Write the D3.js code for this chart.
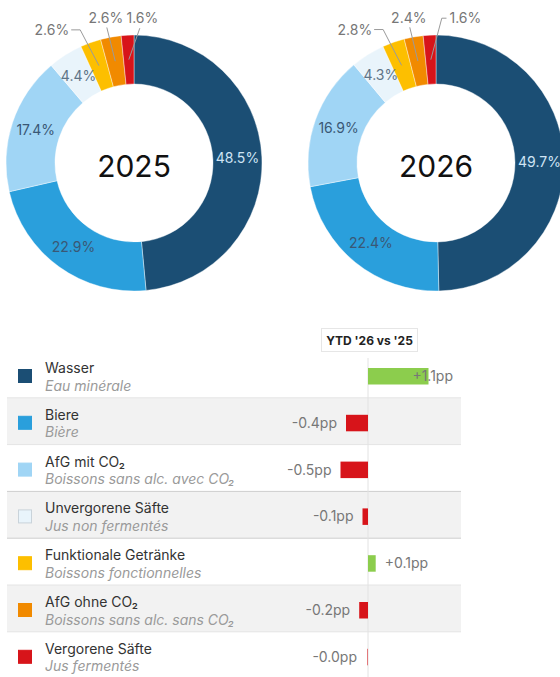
<!DOCTYPE html>
<meta charset="utf-8">
<style>
body { margin: 0; background: #fff; }
svg { display: block; font-family: Inter, "Noto Sans", sans-serif; }
</style>
<svg id="chart" width="560" height="677"></svg>
<script src="https://d3js.org/d3.v7.min.js"></script>
<script>

var categoriesDe = ["Wasser", "Biere", "AfG mit CO₂", "Unvergorene Säfte", "Funktionale Getränke", "AfG ohne CO₂", "Vergorene Säfte"];
var categoriesFr = ["Eau minérale", "Bière", "Boissons sans alc. avec CO₂", "Jus non fermentés", "Boissons fonctionnelles", "Boissons sans alc. sans CO₂", "Jus fermentés"];
var share2025 = [48.5, 22.9, 17.4, 4.4, 2.6, 2.6, 1.6];
var share2026 = [49.7, 22.4, 16.9, 4.3, 2.8, 2.4, 1.6];
var deltaPp = [1.1, -0.4, -0.5, -0.1, 0.14, -0.16, -0.01];
var years = ["2025", "2026"];

var colors = ["#1b4e74", "#2a9fdc", "#a0d5f5", "#e9f4fb", "#fdbf00", "#f18a00", "#d7141a"];

var svg = d3.select("svg");

// ---- donuts ----
var donuts = [
  {year: years[0], values: share2025, cx: 134, cy: 163, redNudge: 0},
  {year: years[1], values: share2026, cx: 436, cy: 163, redNudge: 21}
];

var rOuter = 128, rInner = 79;
var arc = d3.arc().innerRadius(rInner).outerRadius(rOuter);
var pie = d3.pie().sort(null).value(function(d) { return d; });

function polar(r, a) { return [r * Math.sin(a), -r * Math.cos(a)]; }

donuts.forEach(function(dn) {
  var g = svg.append("g").attr("transform", "translate(" + dn.cx + "," + dn.cy + ")");
  var arcs = pie(dn.values);

  g.selectAll("path.slice").data(arcs).enter().append("path")
      .attr("class", "slice")
      .attr("d", arc)
      .attr("fill", function(d, i) { return colors[i]; })
      .attr("stroke", "#fff")
      .attr("stroke-width", 0.4);

  g.append("text")
      .attr("x", 0).attr("y", 14)
      .attr("text-anchor", "middle")
      .attr("font-size", 30)
      .attr("fill", "#111")
      .text(dn.year);

  var small = [];
  arcs.forEach(function(d, i) {
    var c = arc.centroid(d);
    if (d.data >= 3.5) {
      g.append("text")
          .attr("x", c[0]).attr("y", c[1] + 5)
          .attr("text-anchor", "middle")
          .attr("font-size", 14)
          .attr("fill", i === 0 ? "#cfe4f4" : (i === 3 ? "#5f7487" : "#3a5875"))
          .text(d.data.toFixed(1) + "%");
    } else {
      small.push({d: d, c: c});
    }
  });

  // outside labels for the small slices
  small.forEach(function(s, k) {
    var mid = (s.d.startAngle + s.d.endAngle) / 2;
    var p = polar(150, mid), c = s.c;
    var txt = s.d.data.toFixed(1) + "%";
    var pts, tx, ty, anchor;
    if (k === 0) {
      pts = [c, [p[0] - 3, p[1] + 8], [p[0] - 12, p[1] + 8]];
      tx = p[0] - 14; ty = p[1] + 8; anchor = "end";
    } else if (k === 1) {
      pts = [c, [p[0], p[1] + 12]];
      tx = p[0] - 1; ty = p[1] + 3; anchor = "middle";
    } else {
      tx = p[0] + dn.redNudge; ty = p[1] + 5; anchor = "start";
      var ex = c[0] + 11;
      if (tx > ex) pts = [c, [ex, ty], [tx - 3, ty]];
      else pts = [c, [ex, ty + 10]];
    }
    g.append("path")
        .attr("d", d3.line()(pts))
        .attr("fill", "none")
        .attr("stroke", "#9a9a9a")
        .attr("stroke-width", 1);
    g.append("text")
        .attr("x", tx).attr("y", ty + 5)
        .attr("text-anchor", anchor)
        .attr("font-size", 14)
        .attr("fill", "#777")
        .text(txt);
  });
});

// ---- table ----
var rowTop = 351, rowH = 46.8, panelX0 = 7, panelX1 = 461;
var y = function(i) { return rowTop + i * rowH; };
var x = d3.scaleLinear().domain([-1, 1.6]).range([313, 456]);

var tbl = svg.append("g");

categoriesDe.forEach(function(d, i) {
  if (i % 2 === 1) {
    tbl.append("rect")
        .attr("x", panelX0).attr("width", panelX1 - panelX0)
        .attr("y", y(i)).attr("height", rowH)
        .attr("fill", "#f2f2f2");
  }
});

categoriesDe.forEach(function(d, i) {
  if (i === 0) return;
  tbl.append("line")
      .attr("x1", panelX0).attr("x2", panelX1)
      .attr("y1", y(i)).attr("y2", y(i))
      .attr("stroke", (i === 3 || i === 4) ? "#cdcdcd" : "#e4e4e4")
      .attr("stroke-width", 1);
});

// zero line
tbl.append("line")
    .attr("x1", x(0)).attr("x2", x(0))
    .attr("y1", 358).attr("y2", 677)
    .attr("stroke", "#e2e2e2");

// header
tbl.append("rect")
    .attr("x", 321.5).attr("y", 328.5).attr("width", 96).attr("height", 23)
    .attr("fill", "#fff").attr("stroke", "#e6e6e6");
tbl.append("text")
    .attr("x", 369.5).attr("y", 344.5)
    .attr("text-anchor", "middle")
    .attr("font-size", 12).attr("font-weight", 700)
    .attr("fill", "#222")
    .text("YTD '26 vs '25");

categoriesDe.forEach(function(d, i) {
  var top = y(i);
  tbl.append("rect")
      .attr("x", 18.5).attr("y", top + 18.5).attr("width", 13).attr("height", 13)
      .attr("fill", colors[i])
      .attr("stroke", i === 3 ? "#c9d3da" : colors[i]);

  tbl.append("text")
      .attr("x", 45).attr("y", top + 22)
      .attr("font-size", 14).attr("fill", "#333")
      .text(d);

  tbl.append("text")
      .attr("x", 45).attr("y", top + 39.5)
      .attr("font-size", 14).attr("font-style", "italic").attr("fill", "#9a9a9a")
      .text(categoriesFr[i]);

  var v = deltaPp[i];
  tbl.append("rect")
      .attr("x", x(Math.min(0, v)))
      .attr("width", Math.abs(x(v) - x(0)))
      .attr("y", top + 17).attr("height", 16.5)
      .attr("fill", v >= 0 ? "#8ccd4d" : "#d7141a");

  var lbl = (v < 0 ? "-" : "+") + Math.abs(v).toFixed(1) + "pp";
  var lt = tbl.append("text")
      .attr("y", top + 30)
      .attr("font-size", 14).attr("fill", "#777")
      .text(lbl);
  if (v >= 0) {
    var lx = x(v) + 9;
    var w = lt.node().getComputedTextLength();
    if (lx + w > 453) lt.attr("x", 453).attr("text-anchor", "end");
    else lt.attr("x", lx).attr("text-anchor", "start");
  } else {
    lt.attr("x", Math.min(x(v), x(0) - 2) - 9).attr("text-anchor", "end");
  }
});

</script>
